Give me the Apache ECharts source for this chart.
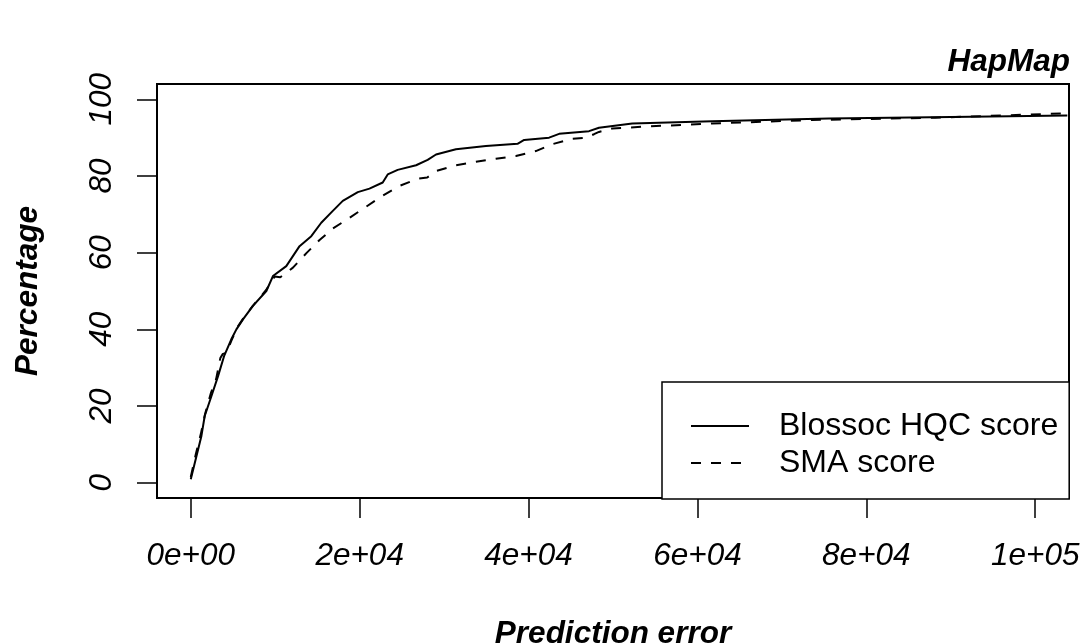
<!DOCTYPE html>
<html>
<head>
<meta charset="utf-8">
<script src="https://cdn.jsdelivr.net/npm/echarts@6/dist/echarts.min.js"></script>
<style>html,body{margin:0;padding:0;background:#fff}#c{width:1086px;height:644px}</style>
</head>
<body>
<div id="c"></div>
<script>
var blossocX = [0,670,1260,1650,2450,3230,3940,4800,5400,6180,7360,8950,9730,11310,12880,14270,15450,16820,18000,19780,21160,22730,23320,24500,26680,28050,29040,31400,34950,38690,39480,42430,43620,47160,48340,52280,61740,75530,90000,103800];
var blossocY = [0.9,6.9,12.2,17.4,22.6,27.8,33,37.4,40,42.6,46.1,50,53.9,56.5,61.7,64.3,67.8,70.9,73.5,75.8,76.7,78.3,80.4,81.6,82.8,84.2,85.6,87.0,87.8,88.4,89.4,90.0,91.0,91.7,92.6,93.7,94.3,95.0,95.4,95.8];
var smaX = [0,600,1200,1700,2400,3000,3500,3800,4200,4800,5500,6200,7300,8900,9600,9930,10600,12100,13750,15250,16820,18800,20570,22540,24700,26870,28000,29040,31400,33770,36130,38500,40860,42820,45190,46770,47750,48340,49920,53860,61740,73560,88140,103100];
var smaY = [1.5,7.5,12.8,18,23.5,27,32.5,33.6,33.8,37,40.5,42.8,46,50.2,52.6,53.8,53.6,56.1,60,63.3,66.3,69.1,71.7,74.6,77.4,79.3,79.6,81.3,82.8,83.7,84.5,85.2,86.5,88.3,89.7,90.0,90.9,91.5,92.4,92.9,93.7,94.6,95.2,96.3];
var xTickValues = [0,20000,40000,60000,80000,100000];
var xTickLabels = ['0e+00','2e+04','4e+04','6e+04','8e+04','1e+05'];
var yTickValues = [0,20,40,60,80,100];
var yTickLabels = ['0','20','40','60','80','100'];
var seriesNames = ['Blossoc HQC score','SMA score'];
var titleText = 'HapMap';
var xName = 'Prediction error';
var yName = 'Percentage';

function zip(a,b){return a.map(function(v,i){return [v,b[i]];});}
var FONT = '"Liberation Sans", Arial, Helvetica, sans-serif';
var FS = 31.5;
var chart = echarts.init(document.getElementById('c'));
chart.setOption({
  animation:false,
  backgroundColor:'#fff',
  title:{text:titleText,right:11,top:41,textStyle:{fontFamily:FONT,fontSize:FS,fontWeight:'bold',fontStyle:'italic',color:'#000'}},
  grid:{left:157,right:17,top:84,bottom:146,show:true,borderColor:'#000',borderWidth:2,backgroundColor:'transparent',
    containLabel:false,outerBoundsMode:'none'},
  legend:{
    left:662, top:382, orient:'vertical', data:seriesNames,
    padding:[28,11,20,28], itemGap:5, itemWidth:58, itemHeight:14,
    backgroundColor:'#fff', borderColor:'#000', borderWidth:1.5, borderRadius:0,
    itemStyle:{color:'rgba(0,0,0,0)',borderColor:'rgba(0,0,0,0)',borderWidth:0},
    textStyle:{fontFamily:FONT,fontSize:32,color:'#000',padding:[0,0,0,25]},
    selectedMode:false
  },
  xAxis:{
    type:'value', min:-4000, max:104000,
    name:xName, nameLocation:'middle', nameGap:120,
    nameTextStyle:{fontFamily:FONT,fontSize:FS,fontWeight:'bold',fontStyle:'italic',color:'#000'},
    axisLine:{show:false,onZero:false},
    splitLine:{show:false},
    axisTick:{show:true,inside:false,length:20,customValues:xTickValues,lineStyle:{color:'#000',width:1.5}},
    axisLabel:{customValues:xTickValues,margin:42,fontFamily:FONT,fontSize:FS,fontStyle:'italic',color:'#000',
      formatter:function(v){var i=xTickValues.indexOf(v);return i>=0?xTickLabels[i]:'';}}
  },
  yAxis:{
    type:'value', min:-4, max:104,
    name:yName, nameLocation:'middle', nameGap:113,
    nameTextStyle:{fontFamily:FONT,fontSize:FS,fontWeight:'bold',fontStyle:'italic',color:'#000'},
    axisLine:{show:false,onZero:false},
    splitLine:{show:false},
    axisTick:{show:true,inside:false,length:20,customValues:yTickValues,lineStyle:{color:'#000',width:1.5}},
    axisLabel:{customValues:yTickValues,margin:39,rotate:90,fontFamily:FONT,fontSize:FS,fontStyle:'italic',color:'#000',
      formatter:function(v){var i=yTickValues.indexOf(v);return i>=0?yTickLabels[i]:'';}}
  },
  series:[
    {name:seriesNames[0],type:'line',data:zip(blossocX,blossocY),symbol:'none',clip:true,
     lineStyle:{color:'#000',width:2,type:'solid'},itemStyle:{color:'#000'}},
    {name:seriesNames[1],type:'line',data:zip(smaX,smaY),symbol:'none',clip:true,
     lineStyle:{color:'#000',width:2,type:[10,10]},itemStyle:{color:'#000'}}
  ]
});
</script>
</body>
</html>
